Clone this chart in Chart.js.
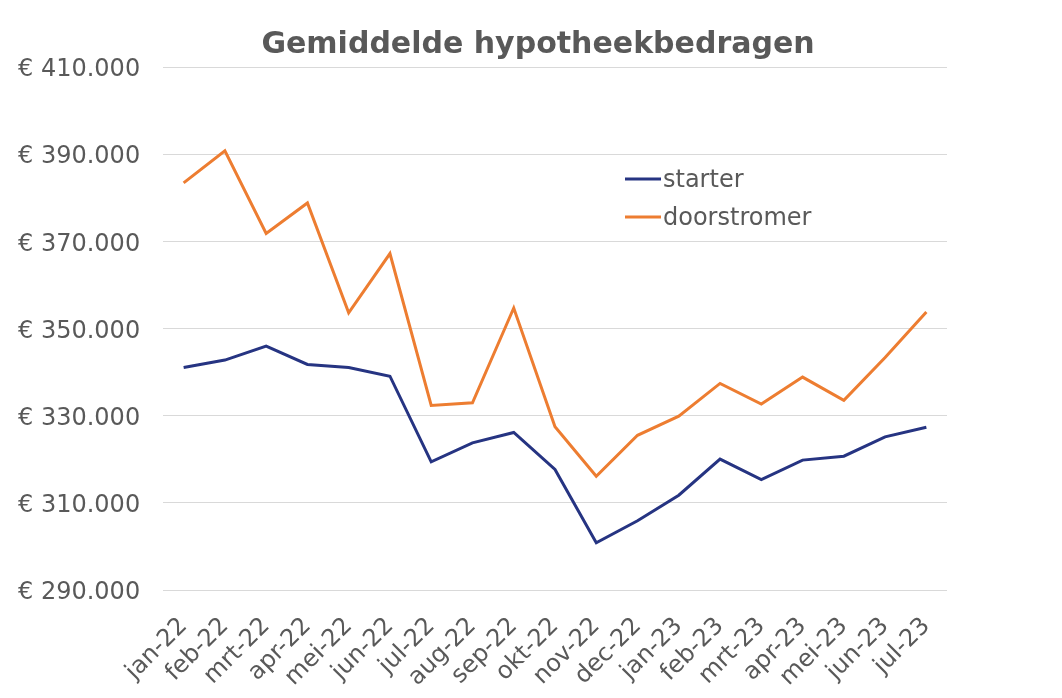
<!DOCTYPE html>
<html>
<head>
<meta charset="utf-8">
<script src="https://cdn.jsdelivr.net/npm/chart.js@4"></script>
<style>
  body { margin: 0; background: #fff; }
  canvas { display: block; }
</style>
</head>
<body>
<canvas id="canvas" width="1062" height="698"></canvas>
<script>
let titleText = "Gemiddelde hypotheekbedragen";
let months = ["jan-22", "feb-22", "mrt-22", "apr-22", "mei-22", "jun-22", "jul-22", "aug-22", "sep-22",
    "okt-22", "nov-22", "dec-22", "jan-23", "feb-23", "mrt-23", "apr-23", "mei-23", "jun-23", "jul-23"];
let starter = [341050, 342750, 345950, 341750, 341050, 339050, 319400, 323750, 326150,
    317650, 300850, 305900, 311750, 320050, 315350, 319800, 320700, 325150, 327350];
let doorstromer = [383400, 390750, 371800, 378800, 353600, 367200, 332350, 332950, 354700,
    327450, 316100, 325500, 329900, 337400, 332650, 338850, 333500, 343350, 353800];
let yMin = 290000;
let yMax = 410000;
let yStep = 20000;

let grey = "#595959";
Chart.defaults.font.family = "'DejaVu Sans', Verdana, sans-serif";
Chart.defaults.font.size = 24;
Chart.defaults.color = grey;

function euro(v) {
    return "€ " + String(v).replace(/\B(?=(\d{3})+(?!\d))/g, ".");
}

// title and legend drawn by hand so they sit where the original has them
let overlay = {
    id: "overlay",
    afterDraw(chart) {
        let ctx = chart.ctx;
        ctx.save();
        ctx.fillStyle = grey;
        ctx.font = "bold 30px 'DejaVu Sans'";
        ctx.textAlign = "center";
        ctx.textBaseline = "alphabetic";
        ctx.fillText(titleText, 538, 53);

        ctx.font = "24px 'DejaVu Sans'";
        ctx.textAlign = "left";
        ctx.textBaseline = "middle";
        chart.data.datasets.forEach((ds, i) => {
            let y = 179 + i * 38;
            ctx.strokeStyle = ds.borderColor;
            ctx.lineWidth = 3;
            ctx.beginPath();
            ctx.moveTo(625, y);
            ctx.lineTo(661, y);
            ctx.stroke();
            ctx.fillText(ds.label, 663, y + 2);
        });
        ctx.restore();
    }
};

let chart = new Chart(document.getElementById("canvas"), {
    type: "line",
    data: {
        labels: months,
        datasets: [{
            label: "starter",
            data: starter,
            borderColor: "#263482",
            backgroundColor: "#263482",
            borderWidth: 3,
            pointRadius: 0,
            tension: 0
        }, {
            label: "doorstromer",
            data: doorstromer,
            borderColor: "#ED7D31",
            backgroundColor: "#ED7D31",
            borderWidth: 3,
            pointRadius: 0,
            tension: 0
        }]
    },
    options: {
        responsive: false,
        animation: false,
        layout: { padding: { top: 67, left: 18, right: 115, bottom: 0 } },
        plugins: {
            legend: { display: false },
            title: { display: false },
            tooltip: { enabled: false }
        },
        scales: {
            x: {
                offset: true,
                grid: { display: false },
                border: { display: false },
                ticks: { minRotation: 45, maxRotation: 45, autoSkip: false, padding: 14 },
                afterFit(scale) { scale.height = 108; }
            },
            y: {
                min: yMin,
                max: yMax,
                grid: { color: "#d9d9d9", lineWidth: 1, drawTicks: false },
                border: { display: false },
                ticks: {
                    stepSize: yStep,
                    crossAlign: "far",
                    labelOffset: 3,
                    callback: (v) => euro(v)
                },
                afterFit(scale) { scale.width = 145; }
            }
        }
    },
    plugins: [overlay]
});
</script>
</body>
</html>
